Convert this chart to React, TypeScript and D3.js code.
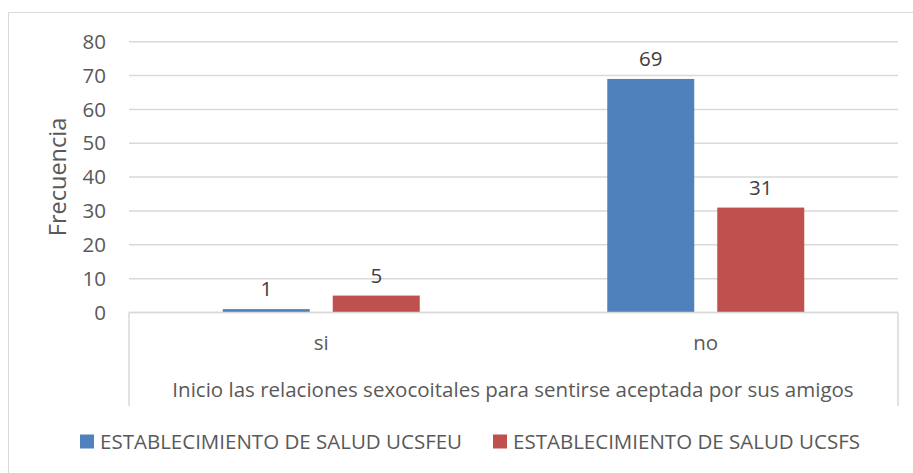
import React from 'react';
import * as d3 from 'd3';

const categories = ['si', 'no'];
const seriesNames = ['ESTABLECIMIENTO DE SALUD UCSFEU', 'ESTABLECIMIENTO DE SALUD UCSFS'];
const ucsfeu = [1, 69];
const ucsfs = [5, 31];
const yTicks = [0, 10, 20, 30, 40, 50, 60, 70, 80];
const colors = ['#4f81bd', '#c0504d'];
const xTitle = 'Inicio las relaciones sexocoitales para sentirse aceptada por sus amigos';
const yTitle = 'Frecuencia';

const W = 913;
const H = 473;
const margin = { top: 41.7, left: 129 };
const plotRight = 898;
const zeroY = 312.5;
const groupW = 197;
const font = '"Open Sans", sans-serif';
const fs = 20.5;
const textColor = '#595959';

export default function App() {
  const x0 = d3.scaleBand<string>().domain(categories).range([margin.left, plotRight]);
  const x1 = d3
    .scaleBand<number>()
    .domain([0, 1])
    .range([0, groupW])
    .paddingInner(0.209);
  const y = d3.scaleLinear().domain([0, 80]).range([zeroY, margin.top]);
  const series = [ucsfeu, ucsfs];

  return (
    <svg width={W} height={H} style={{ position: 'absolute', left: 0, top: 0 }}>
      <rect x={0} y={0} width={W} height={H} fill="#fff" />
      <rect x={8.5} y={12.5} width={W + 10} height={H + 10} fill="none" stroke="#d9d9d9" />
      {yTicks.map(t => (
        <g key={t}>
          <line x1={margin.left} x2={plotRight} y1={y(t)} y2={y(t)} stroke="#d9d9d9" strokeWidth={1.5} />
          <text x={106} y={y(t)} dy="0.35em" textAnchor="end" fontFamily={font} fontSize={fs} fill={textColor}>
            {t}
          </text>
        </g>
      ))}
      {categories.map((c, i) =>
        series.map((s, k) => {
          const bx = (x0(c) as number) + (x0.bandwidth() - groupW) / 2 + (x1(k) as number);
          return (
            <g key={c + k}>
              <rect x={bx} y={y(s[i])} width={x1.bandwidth()} height={zeroY - y(s[i])} fill={colors[k]} />
              <text
                x={bx + x1.bandwidth() / 2}
                y={y(s[i]) - 13}
                textAnchor="middle"
                fontFamily={font}
                fontSize={fs}
                fill="#404040"
              >
                {s[i]}
              </text>
            </g>
          );
        })
      )}
      <line x1={margin.left} x2={plotRight} y1={zeroY} y2={zeroY} stroke="#d9d9d9" strokeWidth={1.5} />
      <line x1={margin.left} x2={margin.left} y1={zeroY} y2={406} stroke="#d9d9d9" strokeWidth={1.5} />
      <line x1={plotRight} x2={plotRight} y1={zeroY} y2={406} stroke="#d9d9d9" strokeWidth={1.5} />
      {categories.map(c => (
        <text
          key={c}
          x={(x0(c) as number) + x0.bandwidth() / 2}
          y={343}
          dy="0.35em"
          textAnchor="middle"
          fontFamily={font}
          fontSize={fs}
          fill={textColor}
        >
          {c}
        </text>
      ))}
      <text x={513} y={390} dy="0.35em" textAnchor="middle" fontFamily={font} fontSize={fs} fill={textColor}>
        {xTitle}
      </text>
      <text
        transform="translate(58,177) rotate(-90)"
        dy="0.35em"
        textAnchor="middle"
        fontFamily={font}
        fontSize={23.5}
        fill={textColor}
      >
        {yTitle}
      </text>
      {seriesNames.map((n, k) => {
        const lx = k === 0 ? 80 : 493;
        return (
          <g key={n}>
            <rect x={lx} y={434.5} width={14} height={14} fill={colors[k]} />
            <text x={lx + 20} y={442} dy="0.35em" fontFamily={font} fontSize={fs} fill={textColor}>
              {n}
            </text>
          </g>
        );
      })}
    </svg>
  );
}
